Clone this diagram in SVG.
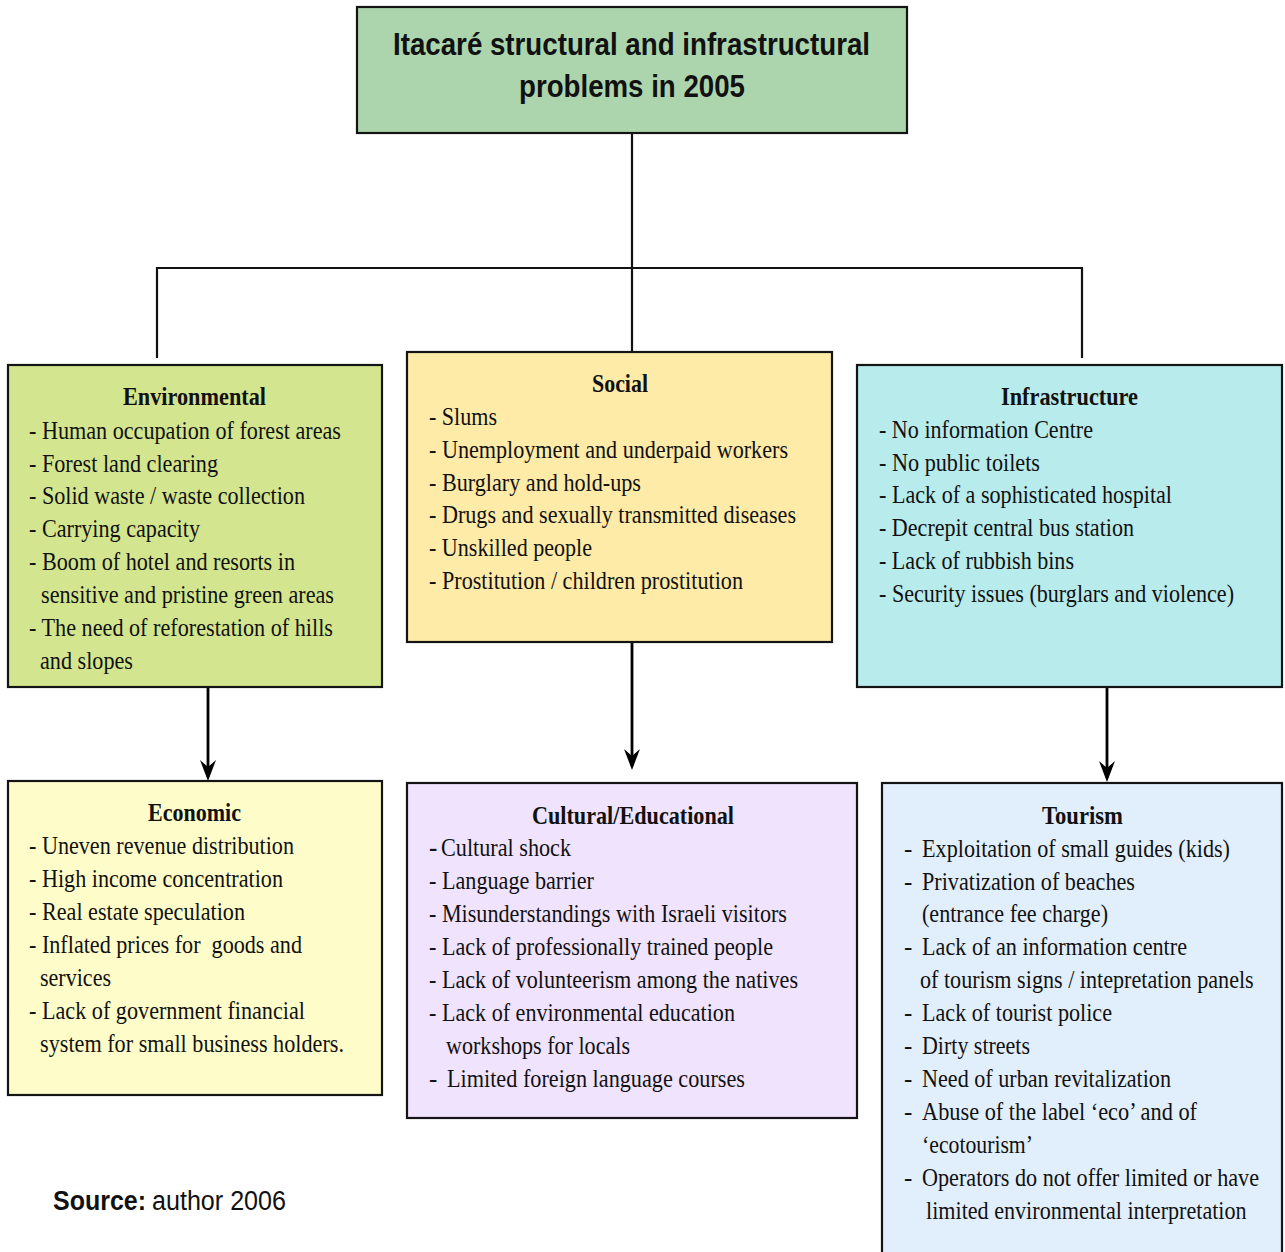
<svg xmlns="http://www.w3.org/2000/svg" width="1285" height="1252" viewBox="0 0 1285 1252">
  <style>
    .box { stroke: #141414; stroke-width: 2.2; }
    .link { fill: none; stroke: #111; stroke-width: 2.2; }
    .arrow { fill: none; stroke: #000; stroke-width: 2.8; }
    .hd { font-family: "Liberation Serif", "Times New Roman", serif; font-size: 25px; font-weight: bold; fill: #111; }
    .tx { font-family: "Liberation Serif", "Times New Roman", serif; font-size: 25px; fill: #111; }
    .ttl { font-family: "Liberation Sans", Arial, sans-serif; font-size: 31px; font-weight: bold; fill: #111; }
    .src { font-family: "Liberation Sans", Arial, sans-serif; font-size: 27px; fill: #111; }
  </style>
  <defs>
    <marker id="head" viewBox="-18 -9 23 18" refX="0" refY="0" markerWidth="23" markerHeight="18" markerUnits="userSpaceOnUse" orient="auto">
      <path d="M4,0 L-17,-8 L-10,0 L-17,8 Z" fill="#000"/>
    </marker>
  </defs>

  <rect width="1285" height="1252" fill="#fff"/>

  <!-- connectors -->
  <g id="connectors">
    <path class="link" d="M632,133 V352"/>
    <path class="link" d="M157,358 V268 H1082 V358"/>
    <path class="arrow" d="M208,687 V777" marker-end="url(#head)"/>
    <path class="arrow" d="M632,642 V766" marker-end="url(#head)"/>
    <path class="arrow" d="M1107,687 V778" marker-end="url(#head)"/>
  </g>

  <!-- root -->
  <g id="title">
    <rect class="box" x="357" y="7" width="550" height="126" fill="#acd5ad"/>
    <text class="ttl" x="393" y="55" textLength="477" lengthAdjust="spacingAndGlyphs">Itacaré structural and infrastructural</text>
    <text class="ttl" x="519" y="97" textLength="226" lengthAdjust="spacingAndGlyphs">problems in 2005</text>
  </g>

  <g id="environmental">
    <rect class="box" x="8" y="365" width="374" height="322" fill="#d3e68f"/>
    <text class="hd" x="123" y="405" textLength="143" lengthAdjust="spacingAndGlyphs">Environmental</text>
    <text class="tx" x="29" y="439" textLength="312" lengthAdjust="spacingAndGlyphs">- Human occupation of forest areas</text>
    <text class="tx" x="29" y="472" textLength="189" lengthAdjust="spacingAndGlyphs">- Forest land clearing</text>
    <text class="tx" x="29" y="504" textLength="276" lengthAdjust="spacingAndGlyphs">- Solid waste / waste collection</text>
    <text class="tx" x="29" y="537" textLength="171" lengthAdjust="spacingAndGlyphs">- Carrying capacity</text>
    <text class="tx" x="29" y="570" textLength="266" lengthAdjust="spacingAndGlyphs">- Boom of hotel and resorts in</text>
    <text class="tx" x="41" y="603" textLength="293" lengthAdjust="spacingAndGlyphs">sensitive and pristine green areas</text>
    <text class="tx" x="29" y="636" textLength="304" lengthAdjust="spacingAndGlyphs">- The need of reforestation of hills</text>
    <text class="tx" x="40" y="669" textLength="93" lengthAdjust="spacingAndGlyphs">and slopes</text>
  </g>

  <g id="social">
    <rect class="box" x="407" y="352" width="425" height="290" fill="#feeba8"/>
    <text class="hd" x="592" y="392" textLength="56" lengthAdjust="spacingAndGlyphs">Social</text>
    <text class="tx" x="429" y="425" textLength="68" lengthAdjust="spacingAndGlyphs">- Slums</text>
    <text class="tx" x="429" y="458" textLength="359" lengthAdjust="spacingAndGlyphs">- Unemployment and underpaid workers</text>
    <text class="tx" x="429" y="491" textLength="212" lengthAdjust="spacingAndGlyphs">- Burglary and hold-ups</text>
    <text class="tx" x="429" y="523" textLength="367" lengthAdjust="spacingAndGlyphs">- Drugs and sexually transmitted diseases</text>
    <text class="tx" x="429" y="556" textLength="163" lengthAdjust="spacingAndGlyphs">- Unskilled people</text>
    <text class="tx" x="429" y="589" textLength="314" lengthAdjust="spacingAndGlyphs">- Prostitution / children prostitution</text>
  </g>

  <g id="infrastructure">
    <rect class="box" x="857" y="365" width="425" height="322" fill="#b8ebeb"/>
    <text class="hd" x="1001" y="405" textLength="137" lengthAdjust="spacingAndGlyphs">Infrastructure</text>
    <text class="tx" x="879" y="438" textLength="214" lengthAdjust="spacingAndGlyphs">- No information Centre</text>
    <text class="tx" x="879" y="471" textLength="161" lengthAdjust="spacingAndGlyphs">- No public toilets</text>
    <text class="tx" x="879" y="503" textLength="293" lengthAdjust="spacingAndGlyphs">- Lack of a sophisticated hospital</text>
    <text class="tx" x="879" y="536" textLength="255" lengthAdjust="spacingAndGlyphs">- Decrepit central bus station</text>
    <text class="tx" x="879" y="569" textLength="195" lengthAdjust="spacingAndGlyphs">- Lack of rubbish bins</text>
    <text class="tx" x="879" y="602" textLength="355" lengthAdjust="spacingAndGlyphs">- Security issues (burglars and violence)</text>
  </g>

  <g id="economic">
    <rect class="box" x="8" y="781" width="374" height="314" fill="#fefdc9"/>
    <text class="hd" x="148" y="821" textLength="93" lengthAdjust="spacingAndGlyphs">Economic</text>
    <text class="tx" x="29" y="854" textLength="265" lengthAdjust="spacingAndGlyphs">- Uneven revenue distribution</text>
    <text class="tx" x="29" y="887" textLength="254" lengthAdjust="spacingAndGlyphs">- High income concentration</text>
    <text class="tx" x="29" y="920" textLength="216" lengthAdjust="spacingAndGlyphs">- Real estate speculation</text>
    <text class="tx" x="29" y="953" textLength="273" lengthAdjust="spacingAndGlyphs" xml:space="preserve">- Inflated prices for  goods and</text>
    <text class="tx" x="40" y="986" textLength="71" lengthAdjust="spacingAndGlyphs">services</text>
    <text class="tx" x="29" y="1019" textLength="276" lengthAdjust="spacingAndGlyphs">- Lack of government financial</text>
    <text class="tx" x="40" y="1052" textLength="304" lengthAdjust="spacingAndGlyphs">system for small business holders.</text>
  </g>

  <g id="cultural">
    <rect class="box" x="407" y="783" width="450" height="335" fill="#f0e3fd"/>
    <text class="hd" x="532" y="824" textLength="202" lengthAdjust="spacingAndGlyphs">Cultural/Educational</text>
    <text class="hd" x="429" y="856">-</text>
    <text class="tx" x="441" y="856" textLength="130" lengthAdjust="spacingAndGlyphs">Cultural shock</text>
    <text class="tx" x="429" y="889" textLength="165" lengthAdjust="spacingAndGlyphs">- Language barrier</text>
    <text class="tx" x="429" y="922" textLength="358" lengthAdjust="spacingAndGlyphs">- Misunderstandings with Israeli visitors</text>
    <text class="tx" x="429" y="955" textLength="344" lengthAdjust="spacingAndGlyphs">- Lack of professionally trained people</text>
    <text class="tx" x="429" y="988" textLength="369" lengthAdjust="spacingAndGlyphs">- Lack of volunteerism among the natives</text>
    <text class="tx" x="429" y="1021" textLength="306" lengthAdjust="spacingAndGlyphs">- Lack of environmental education</text>
    <text class="tx" x="446" y="1054" textLength="184" lengthAdjust="spacingAndGlyphs">workshops for locals</text>
    <text class="tx" x="429" y="1087">-</text>
    <text class="tx" x="447" y="1087" textLength="298" lengthAdjust="spacingAndGlyphs">Limited foreign language courses</text>
  </g>

  <g id="tourism">
    <rect class="box" x="882" y="783" width="400" height="480" fill="#e1effc"/>
    <text class="hd" x="1042" y="824" textLength="81" lengthAdjust="spacingAndGlyphs">Tourism</text>
    <text class="tx" x="904" y="857">-</text>
    <text class="tx" x="922" y="857" textLength="308" lengthAdjust="spacingAndGlyphs">Exploitation of small guides (kids)</text>
    <text class="tx" x="904" y="890">-</text>
    <text class="tx" x="922" y="890" textLength="213" lengthAdjust="spacingAndGlyphs">Privatization of beaches</text>
    <text class="tx" x="922" y="922" textLength="186" lengthAdjust="spacingAndGlyphs">(entrance fee charge)</text>
    <text class="tx" x="904" y="955">-</text>
    <text class="tx" x="922" y="955" textLength="265" lengthAdjust="spacingAndGlyphs">Lack of an information centre</text>
    <!-- long lines: condensed with a horizontal scale so their box stays inside the frame -->
    <text class="tx" transform="translate(920,988) scale(0.82,1)" x="0" y="0" textLength="407" lengthAdjust="spacingAndGlyphs">of tourism signs / intepretation panels</text>
    <text class="tx" x="904" y="1021">-</text>
    <text class="tx" x="922" y="1021" textLength="190" lengthAdjust="spacingAndGlyphs">Lack of tourist police</text>
    <text class="tx" x="904" y="1054">-</text>
    <text class="tx" x="922" y="1054" textLength="108" lengthAdjust="spacingAndGlyphs">Dirty streets</text>
    <text class="tx" x="904" y="1087">-</text>
    <text class="tx" x="922" y="1087" textLength="249" lengthAdjust="spacingAndGlyphs">Need of urban revitalization</text>
    <text class="tx" x="904" y="1120">-</text>
    <text class="tx" x="922" y="1120" textLength="275" lengthAdjust="spacingAndGlyphs">Abuse of the label ‘eco’ and of</text>
    <text class="tx" x="922" y="1153" textLength="111" lengthAdjust="spacingAndGlyphs">‘ecotourism’</text>
    <text class="tx" x="904" y="1186">-</text>
    <text class="tx" transform="translate(922,1186) scale(0.82,1)" x="0" y="0" textLength="411" lengthAdjust="spacingAndGlyphs">Operators do not offer limited or have</text>
    <text class="tx" transform="translate(926,1219) scale(0.82,1)" x="0" y="0" textLength="391" lengthAdjust="spacingAndGlyphs">limited environmental interpretation</text>
  </g>

  <g id="source">
    <text class="src" x="53" y="1210"><tspan font-weight="bold" textLength="93" lengthAdjust="spacingAndGlyphs">Source:</tspan></text>
    <text class="src" x="152" y="1210" textLength="134" lengthAdjust="spacingAndGlyphs">author 2006</text>
  </g>
</svg>
